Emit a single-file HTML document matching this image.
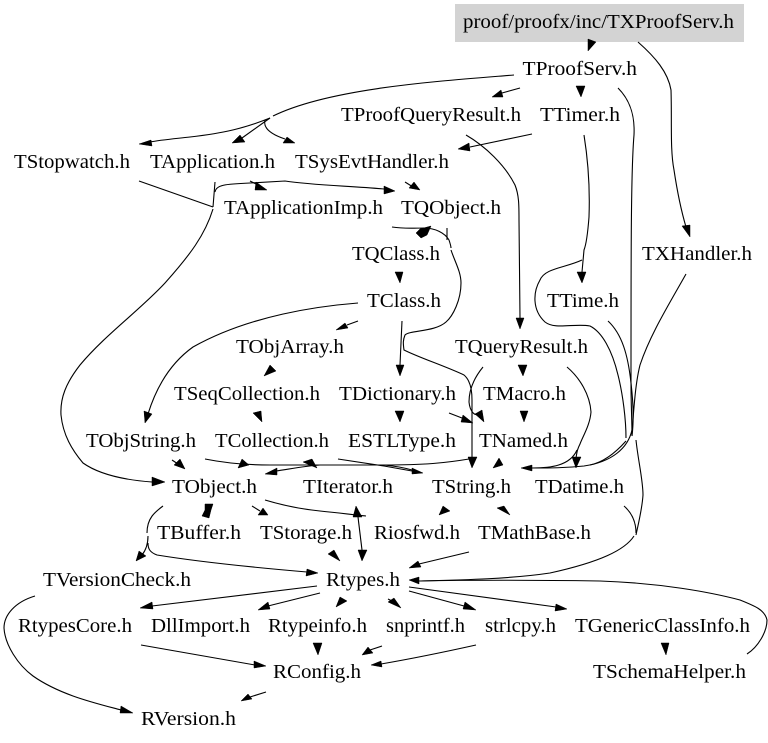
<!DOCTYPE html>
<html><head><meta charset="utf-8"><style>
html,body{margin:0;padding:0;background:#fff}
svg{display:block}
text{font-family:"Liberation Serif",serif;font-size:20.5px;fill:#000}
path{fill:none;stroke:#000;stroke-width:1.1}
polygon{fill:#000;stroke:#000;stroke-width:.5}
</style></head><body>
<svg width="768" height="743" viewBox="0 0 768 743" xmlns="http://www.w3.org/2000/svg">
<rect x="455" y="4" width="289" height="38" fill="#d3d3d3"/>
<g>
<text x="463" y="28" textLength="271" lengthAdjust="spacingAndGlyphs">proof/proofx/inc/TXProofServ.h</text>
<text x="522.5" y="75" textLength="114.5" lengthAdjust="spacingAndGlyphs">TProofServ.h</text>
<text x="341" y="121" textLength="180" lengthAdjust="spacingAndGlyphs">TProofQueryResult.h</text>
<text x="540" y="121" textLength="80" lengthAdjust="spacingAndGlyphs">TTimer.h</text>
<text x="14" y="168" textLength="116" lengthAdjust="spacingAndGlyphs">TStopwatch.h</text>
<text x="150" y="168" textLength="125" lengthAdjust="spacingAndGlyphs">TApplication.h</text>
<text x="295" y="168" textLength="154" lengthAdjust="spacingAndGlyphs">TSysEvtHandler.h</text>
<text x="224" y="214" textLength="159" lengthAdjust="spacingAndGlyphs">TApplicationImp.h</text>
<text x="401" y="214" textLength="100" lengthAdjust="spacingAndGlyphs">TQObject.h</text>
<text x="352" y="260" textLength="88" lengthAdjust="spacingAndGlyphs">TQClass.h</text>
<text x="642" y="260" textLength="110" lengthAdjust="spacingAndGlyphs">TXHandler.h</text>
<text x="367" y="307" textLength="74" lengthAdjust="spacingAndGlyphs">TClass.h</text>
<text x="547" y="307" textLength="72" lengthAdjust="spacingAndGlyphs">TTime.h</text>
<text x="236" y="353" textLength="108" lengthAdjust="spacingAndGlyphs">TObjArray.h</text>
<text x="455" y="353" textLength="133" lengthAdjust="spacingAndGlyphs">TQueryResult.h</text>
<text x="174" y="400" textLength="146" lengthAdjust="spacingAndGlyphs">TSeqCollection.h</text>
<text x="339" y="400" textLength="117" lengthAdjust="spacingAndGlyphs">TDictionary.h</text>
<text x="483" y="400" textLength="83" lengthAdjust="spacingAndGlyphs">TMacro.h</text>
<text x="86" y="447" textLength="110" lengthAdjust="spacingAndGlyphs">TObjString.h</text>
<text x="215" y="447" textLength="114" lengthAdjust="spacingAndGlyphs">TCollection.h</text>
<text x="348" y="447" textLength="108" lengthAdjust="spacingAndGlyphs">ESTLType.h</text>
<text x="479" y="447" textLength="89" lengthAdjust="spacingAndGlyphs">TNamed.h</text>
<text x="172" y="493" textLength="85" lengthAdjust="spacingAndGlyphs">TObject.h</text>
<text x="303" y="493" textLength="90" lengthAdjust="spacingAndGlyphs">TIterator.h</text>
<text x="432" y="493" textLength="79" lengthAdjust="spacingAndGlyphs">TString.h</text>
<text x="535" y="493" textLength="89" lengthAdjust="spacingAndGlyphs">TDatime.h</text>
<text x="157" y="539" textLength="84" lengthAdjust="spacingAndGlyphs">TBuffer.h</text>
<text x="260" y="539" textLength="92" lengthAdjust="spacingAndGlyphs">TStorage.h</text>
<text x="374" y="539" textLength="86" lengthAdjust="spacingAndGlyphs">Riosfwd.h</text>
<text x="478" y="539" textLength="113" lengthAdjust="spacingAndGlyphs">TMathBase.h</text>
<text x="43" y="586" textLength="148" lengthAdjust="spacingAndGlyphs">TVersionCheck.h</text>
<text x="326" y="586" textLength="74" lengthAdjust="spacingAndGlyphs">Rtypes.h</text>
<text x="18" y="632" textLength="114" lengthAdjust="spacingAndGlyphs">RtypesCore.h</text>
<text x="151" y="632" textLength="99" lengthAdjust="spacingAndGlyphs">DllImport.h</text>
<text x="268" y="632" textLength="99" lengthAdjust="spacingAndGlyphs">Rtypeinfo.h</text>
<text x="386" y="632" textLength="79" lengthAdjust="spacingAndGlyphs">snprintf.h</text>
<text x="485" y="632" textLength="71" lengthAdjust="spacingAndGlyphs">strlcpy.h</text>
<text x="575" y="632" textLength="175" lengthAdjust="spacingAndGlyphs">TGenericClassInfo.h</text>
<text x="273" y="678" textLength="88" lengthAdjust="spacingAndGlyphs">RConfig.h</text>
<text x="593" y="678" textLength="153" lengthAdjust="spacingAndGlyphs">TSchemaHelper.h</text>
<text x="141" y="725" textLength="95" lengthAdjust="spacingAndGlyphs">RVersion.h</text>
</g>
<g>
<path d="M514,75C440,81 330,88 273,116"/>
<path d="M270,118C245,128 225,133 190,137C172,139 160,140 150,142"/>
<path d="M270,118L242,138"/>
<path d="M265,120C263,128 270,134 285,139"/>
<path d="M638,42C655,57 668,72 671,90C672,120 670,150 674,170C677,190 681,210 686,227"/>
<path d="M520,88L502,93"/>
<path d="M532,134L470,147"/>
<path d="M139,181L213,207"/>
<path d="M215,192C216,185 225,184 250,183L285,181C310,185 350,186 384,189"/>
<path d="M250,181L258,185"/>
<path d="M215,182L213,207"/>
<path d="M213,209C205,235 190,255 165,283C140,310 105,335 80,365C66,383 60,398 61,415C63,435 72,450 83,463C100,475 125,480 152,482"/>
<path d="M405,182L413,187"/>
<path d="M466,135C485,146 505,165 515,185C519,195 519,205 519,220L520,318"/>
<path d="M584,135C588,160 590,190 589,217C588,230 586,245 584,250L582,272"/>
<path d="M582,260C565,268 545,268 540,280C533,292 532,310 545,322C555,330 575,323 590,326C602,332 612,350 618,375C623,395 626,420 626,438"/>
<path d="M618,88C630,100 635,115 634,135C631,170 631,250 631,383C631,405 632,420 632,436"/>
<path d="M608,321C622,334 628,355 631,383C633,400 634,420 632,436"/>
<path d="M686,274C668,306 650,335 640,365C635,385 634,410 632,430C628,448 612,462 584,466C565,468 550,468 532,468"/>
<path d="M392,227C405,229 415,228 424,228C435,228 445,233 449,240C451,246 451,248 451,248"/>
<path d="M447,228L447,240"/>
<path d="M451,250C455,262 461,272 461,283C461,300 453,316 446,322C435,332 410,330 405,335C403,340 403,343 404,350C420,358 445,366 464,375C470,380 472,390 472,400L472,458"/>
<path d="M402,321L400,365"/>
<path d="M358,321L347,325"/>
<path d="M358,303C320,306 250,315 193,347C172,362 157,385 148,414"/>
<path d="M483,367C474,378 469,390 469,402C470,412 475,416 478,414"/>
<path d="M449,413L462,418"/>
<path d="M567,367C580,378 590,395 591,412C590,425 583,436 580,444C577,450 577,452 576,458"/>
<path d="M532,468C550,468 570,466 577,450"/>
<path d="M172,460L178,464"/>
<path d="M205,459C225,463 245,465 270,465L384,465C395,466 405,468 412,470"/>
<path d="M338,459L384,466L412,471"/>
<path d="M469,459C445,463 425,465 384,465L320,465C305,466 290,469 276,471"/>
<path d="M304,462L310,464"/>
<path d="M265,500C285,506 300,509 320,511C340,513 355,515 366,516"/>
<path d="M358,517L362,550"/>
<path d="M252,506L260,511"/>
<path d="M163,506C155,512 147,518 147,533"/>
<path d="M148,536C148,544 146,550 142,555"/>
<path d="M148,543C148,548 149,552 157,555C200,562 260,568 307,572"/>
<path d="M626,441C618,450 605,462 590,465"/>
<path d="M636,440C638,460 643,480 643,495C642,510 638,525 636,535"/>
<path d="M624,506C632,513 636,522 636,533"/>
<path d="M634,536C625,550 600,562 550,573C510,579 460,580 419,581"/>
<path d="M469,552L419,564"/>
<path d="M747,654C758,647 767,632 767,620C765,610 755,606 740,600C710,592 660,583 600,581C530,580 470,580 419,581"/>
<path d="M409,591L464,606"/>
<path d="M409,587L556,607"/>
<path d="M388,599L392,601"/>
<path d="M320,593L268,606"/>
<path d="M317,586L152,606"/>
<path d="M476,645C440,653 410,659 381,664"/>
<path d="M382,646L370,650"/>
<path d="M141,645L255,665"/>
<path d="M266,692L250,697"/>
<path d="M35,596C15,602 4,615 4,628C5,645 18,665 33,676C60,695 95,703 121,710"/>
</g>
<g>
<polygon points="588,51 588,39 596,42"/>
<polygon points="492,97 501,90 503,97"/>
<polygon points="581,97 576,86 585,86"/>
<polygon points="690,237 682,226 690,225"/>
<polygon points="139,144 151,140 152,146"/>
<polygon points="232,143 240,135 245,142"/>
<polygon points="295,143 287,137 283,143"/>
<polygon points="458,149 469,143 470,151"/>
<polygon points="267,190 256,182 255,190"/>
<polygon points="395,191 384,186 384,194"/>
<polygon points="420,190 414,182 409,188"/>
<polygon points="431,226 427,235 421,238 416,233 420,229"/>
<polygon points="400,283 395,272 403,272"/>
<polygon points="336,330 345,323 348,328"/>
<polygon points="520,329 516,318 524,318"/>
<polygon points="582,283 577,272 586,272"/>
<polygon points="400,376 396,365 404,365"/>
<polygon points="523,376 518,365 527,365"/>
<polygon points="264,376 270,365 276,371"/>
<polygon points="262,422 253,413 261,411"/>
<polygon points="145,423 144,411 152,414"/>
<polygon points="400,422 395,411 404,411"/>
<polygon points="524,422 520,411 528,411"/>
<polygon points="484,422 475,414 482,410"/>
<polygon points="473,423 463,415 461,422"/>
<polygon points="165,482 152,477 152,486"/>
<polygon points="185,469 174,465 180,459"/>
<polygon points="238,468 242,459 249,465"/>
<polygon points="317,468 303,462 312,459"/>
<polygon points="265,474 277,468 277,475"/>
<polygon points="423,473 412,468 412,474"/>
<polygon points="472,468 468,457 477,457"/>
<polygon points="493,468 499,458 503,465"/>
<polygon points="521,468 532,465 532,471"/>
<polygon points="576,468 572,457 581,457"/>
<polygon points="205,504 213,504 211,510 209,518 202,516 205,510"/>
<polygon points="268,515 263,508 258,515"/>
<polygon points="356,506 353,517 362,517"/>
<polygon points="362,561 358,550 367,550"/>
<polygon points="340,561 328,554 334,550"/>
<polygon points="439,515 443,506 450,511"/>
<polygon points="510,515 497,508 504,506"/>
<polygon points="136,561 139,551 146,556"/>
<polygon points="318,573 307,569 306,576"/>
<polygon points="409,580 419,577 419,584"/>
<polygon points="409,568 418,561 421,567"/>
<polygon points="140,608 152,602 153,609"/>
<polygon points="258,610 268,602 270,609"/>
<polygon points="336,607 340,597 347,601"/>
<polygon points="401,608 388,602 394,598"/>
<polygon points="476,610 465,602 463,609"/>
<polygon points="567,609 556,604 555,611"/>
<polygon points="666,655 661,643 669,643"/>
<polygon points="318,655 313,643 322,643"/>
<polygon points="362,655 368,647 373,653"/>
<polygon points="371,665 381,661 382,667"/>
<polygon points="266,666 254,661 254,668"/>
<polygon points="241,701 248,694 252,699"/>
<polygon points="133,713 121,706 120,713"/>
</g>
</svg>
</body></html>
